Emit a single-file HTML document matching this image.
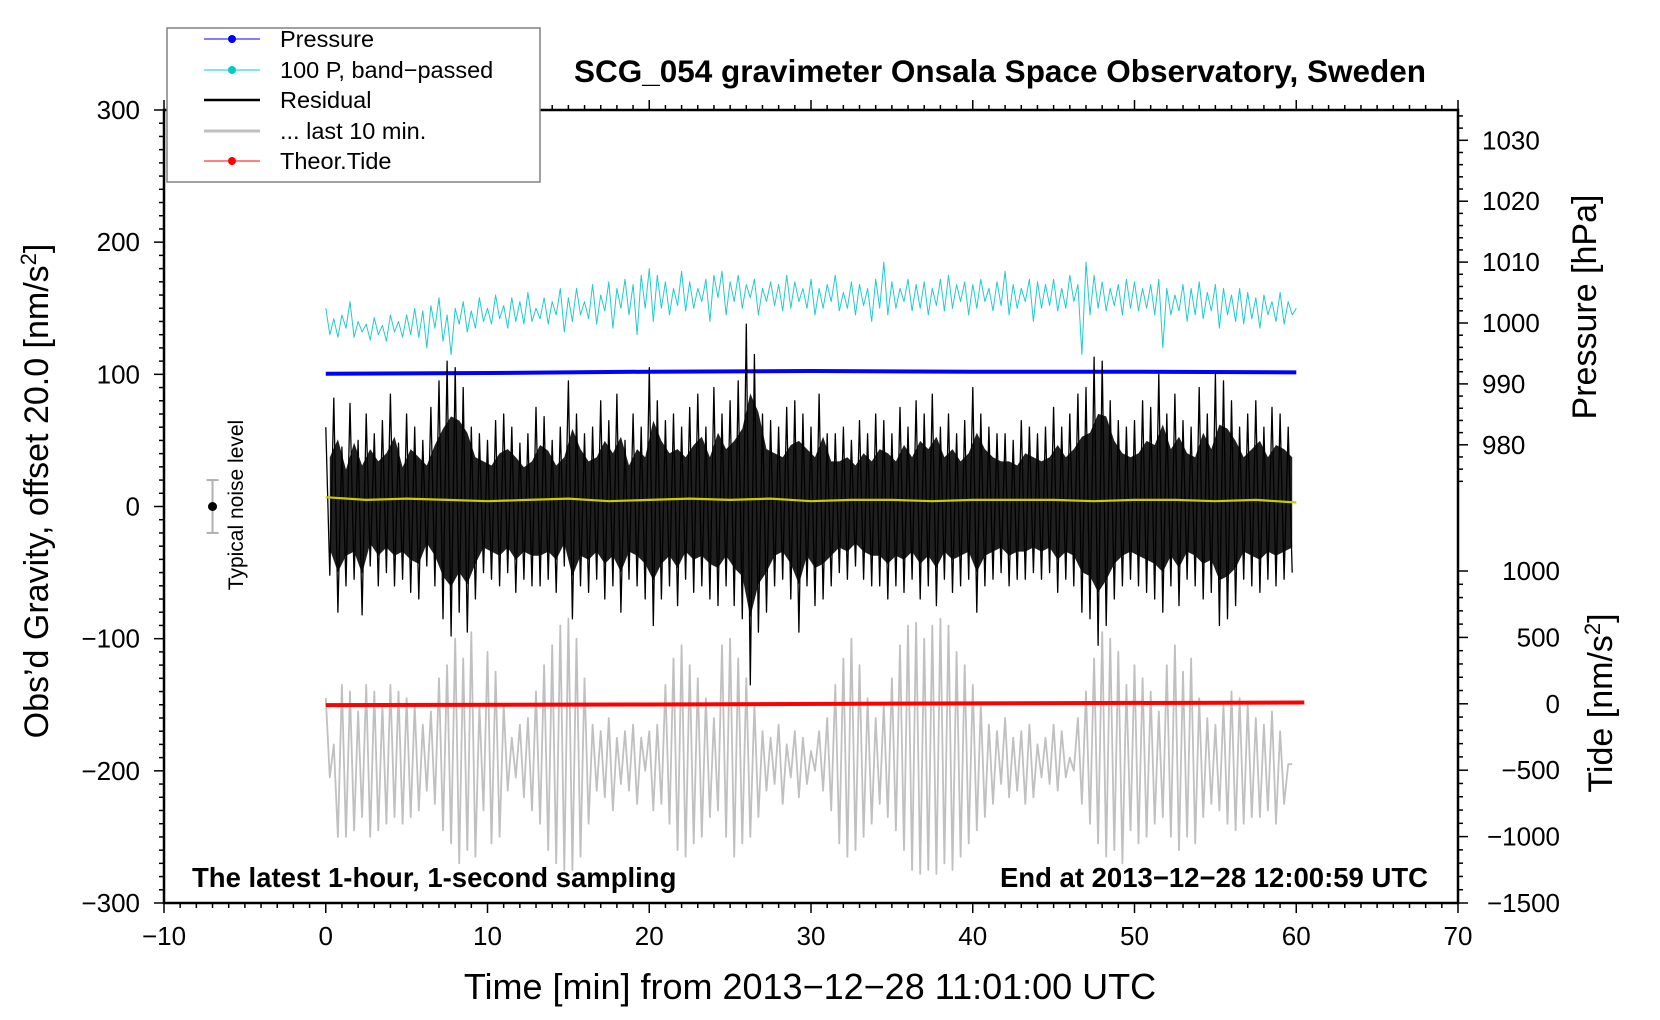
<!DOCTYPE html>
<html><head><meta charset="utf-8"><style>
html,body{margin:0;padding:0;background:#fff;}
svg{display:block;font-family:"Liberation Sans",Arial,sans-serif;}
</style></head><body>
<svg id="chart" width="1660" height="1020" viewBox="0 0 1660 1020" xmlns="http://www.w3.org/2000/svg">
<g id="data-layer"></g>
<g id="axes"></g>
<text x="1000" y="82" text-anchor="middle" font-size="31.5" font-weight="bold">SCG_054 gravimeter Onsala Space Observatory, Sweden</text>
<text x="192" y="887" font-size="27.5" font-weight="bold">The latest 1-hour, 1-second sampling</text>
<text x="1428" y="887" text-anchor="end" font-size="27.5" font-weight="bold">End at 2013−12−28 12:00:59 UTC</text>
<text transform="translate(48,491) rotate(-90)" text-anchor="middle" font-size="34">Obs’d Gravity, offset 20.0 [nm/s<tspan baseline-shift="super" font-size="22">2</tspan>]</text>
<text transform="translate(1596,307) rotate(-90)" text-anchor="middle" font-size="34">Pressure [hPa]</text>
<text transform="translate(1612,703) rotate(-90)" text-anchor="middle" font-size="34">Tide [nm/s<tspan baseline-shift="super" font-size="22">2</tspan>]</text>
<text x="810" y="999" text-anchor="middle" font-size="36">Time [min] from 2013−12−28 11:01:00 UTC</text>
<text transform="translate(243,505) rotate(-90)" text-anchor="middle" font-size="21">Typical noise level</text>
<g>
<rect x="167" y="28" width="373" height="154" fill="#fff" stroke="#808080" stroke-width="1.5"/>
<g><line x1="204" y1="39" x2="260" y2="39" stroke="#0000ff" stroke-width="1"/><circle cx="232" cy="39" r="4" fill="#0000ff"/><text x="280" y="47" font-size="23.5">Pressure</text></g>
<g><line x1="204" y1="70" x2="260" y2="70" stroke="#00cccc" stroke-width="1"/><circle cx="232" cy="70" r="4" fill="#00cccc"/><text x="280" y="78" font-size="23.5">100 P, band−passed</text></g>
<g><line x1="204" y1="100" x2="260" y2="100" stroke="#000" stroke-width="2.5"/><text x="280" y="108" font-size="23.5">Residual</text></g>
<g><line x1="204" y1="131" x2="260" y2="131" stroke="#c0c0c0" stroke-width="3"/><text x="280" y="139" font-size="23.5">... last 10 min.</text></g>
<g><line x1="204" y1="161" x2="260" y2="161" stroke="#ff0000" stroke-width="1"/><circle cx="232" cy="161" r="4" fill="#ff0000"/><text x="280" y="169" font-size="23.5">Theor.Tide</text></g>
</g>
</svg>
<script>
const xTicks=[-10,0,10,20,30,40,50,60,70];
const yTicks=[300,200,100,0,-100,-200,-300];
const pTicks=[1030,1020,1010,1000,990,980];
const tideTicks=[1000,500,0,-500,-1000,-1500];
const residual=[60,-52,82,-80,45,-60,78,-55,50,-82,70,-45,55,-60,65,-50,85,-60,48,-55,
70,-65,60,-70,50,-45,75,-60,95,-85,110,-98,105,-80,90,-95,60,-70,55,-50,
50,-55,65,-60,70,-50,60,-65,48,-55,55,-60,75,-60,68,-55,50,-65,60,-45,
95,-85,70,-60,55,-65,60,-55,80,-70,65,-60,85,-80,50,-55,70,-60,60,-70,
105,-90,80,-70,65,-60,70,-75,60,-55,75,-65,85,-60,60,-70,90,-75,70,-60,
80,-75,95,-85,138,-135,115,-95,70,-80,65,-60,60,-55,75,-70,80,-95,70,-60,
60,-75,85,-70,55,-60,55,-50,60,-55,50,-45,65,-55,55,-60,70,-60,65,-70,
55,-60,75,-65,60,-55,80,-70,70,-60,85,-75,60,-55,70,-65,55,-60,65,-55,
90,-80,70,-60,60,-55,55,-50,55,-60,50,-55,65,-55,60,-50,55,-55,60,-50,
75,-65,60,-55,70,-60,85,-80,90,-85,113,-105,110,-90,80,-70,65,-60,60,-55,
65,-60,80,-65,75,-70,100,-80,70,-60,85,-75,65,-55,60,-60,90,-70,70,-65,
100,-90,95,-85,80,-75,60,-55,70,-60,80,-65,60,-55,75,-60,70,-55,60,-50];
const last10=[-145,-205,-180,-250,-135,-250,-140,-245,-155,-235,-135,-250,-140,-245,-150,-240,-135,-235,-140,-240,
-145,-235,-150,-230,-165,-215,-155,-225,-130,-245,-120,-255,-100,-270,-115,-260,-95,-265,-150,-230,
-110,-255,-125,-250,-150,-215,-175,-205,-165,-220,-160,-230,-140,-240,-120,-260,-105,-270,-90,-275,
-85,-275,-100,-265,-130,-240,-165,-215,-170,-220,-160,-230,-175,-210,-170,-215,-165,-225,-175,-200,
-170,-230,-165,-225,-135,-240,-115,-260,-105,-265,-120,-255,-130,-250,-145,-235,-160,-230,-105,-250,
-100,-265,-115,-255,-130,-250,-150,-235,-170,-215,-175,-210,-165,-225,-180,-205,-170,-220,-175,-210,
-185,-200,-170,-215,-160,-230,-135,-255,-115,-265,-100,-260,-120,-250,-145,-240,-160,-225,-150,-235,
-130,-245,-105,-260,-90,-275,-88,-278,-100,-275,-90,-278,-85,-270,-90,-275,-110,-265,-120,-255,
-135,-245,-150,-235,-165,-225,-170,-210,-160,-220,-175,-215,-170,-225,-165,-220,-180,-205,-175,-210,
-165,-215,-170,-205,-190,-200,-160,-225,-140,-240,-115,-255,-95,-265,-100,-260,-110,-270,-135,-245,
-120,-255,-130,-250,-140,-240,-155,-235,-120,-250,-105,-260,-125,-250,-115,-255,-145,-235,-160,-225,
-165,-230,-150,-240,-140,-245,-145,-240,-150,-235,-160,-235,-165,-230,-155,-240,-170,-225,-195,-195];
const bandPassed=[150,130,142,128,145,135,155,128,140,132,138,126,143,130,137,125,145,132,140,128,
145,130,150,128,148,120,152,135,158,125,145,115,150,138,155,132,148,135,158,140,
150,138,160,142,152,135,158,140,155,138,162,140,150,142,158,138,155,145,165,132,
158,140,165,145,155,142,168,138,160,148,170,135,165,150,172,145,168,130,175,150,
180,140,175,150,170,145,165,152,178,148,170,150,165,155,172,140,175,158,178,145,
170,155,175,150,168,158,172,145,165,155,170,152,168,148,175,150,170,155,165,150,
172,145,165,150,168,155,175,148,162,150,170,145,168,152,165,140,172,150,185,145,
170,150,165,155,172,148,168,150,170,145,165,152,172,148,175,150,168,155,170,145,
168,150,172,155,165,148,170,152,178,145,168,150,165,155,172,140,170,150,168,152,
172,148,165,150,175,155,168,115,185,145,175,150,170,148,165,152,168,145,172,150,
170,148,165,150,168,145,172,120,165,145,160,148,168,140,165,145,170,142,162,148,
168,135,165,145,160,140,165,138,162,142,158,135,160,145,155,140,162,138,155,145,150];
const pressTimes=[0,10,20,30,40,50,60];
const pressVals=[100.5,101,102,102.5,102,102,101.5];
const tideTimes=[0,20,40,60.5];
const tideVals=[-10,-5,3,10];
const smoothTimes=[0,2.5,5,7.5,10,12.5,15,17.5,20,22.5,25,27.5,30,32.5,35,37.5,40,42.5,45,47.5,50,52.5,55,57.5,60];
const smoothVals=[7,5,6,5,4,5,6,4,5,6,5,6,4,5,5,4,5,5,5,4,5,5,4,5,3];
const noiseLevel=[-7,0,20];

const X0=164,X1=1458,Y0=110,Y1=903;
const xs=v=>X0+(v+10)/80*(X1-X0);
const ys=v=>Y1-(v+300)/600*(Y1-Y0);
const ps=v=>323-(v-1000)*6.09;
const ts=v=>Y1-(v+1500)/2500*(Y1-571);
const NS='http://www.w3.org/2000/svg';
const dl=document.getElementById('data-layer');
const ax=document.getElementById('axes');
function mk(tag,attrs,parent){const e=document.createElementNS(NS,tag);for(const k in attrs)e.setAttribute(k,attrs[k]);parent.appendChild(e);return e;}
function line(parent,xsArr,ysArr,color,w){let d='';for(let i=0;i<xsArr.length;i++)d+=(i?'L':'M')+xsArr[i].toFixed(1)+' '+ysArr[i].toFixed(1);return mk('path',{d:d,fill:'none',stroke:color,'stroke-width':w,'stroke-linejoin':'round'},parent);}
const step=a=>a.map((_,i)=>xs(i*0.25));

let e;
e=line(dl,step(bandPassed),bandPassed.map(ys),'#20cccc',1);


e=line(dl,pressTimes.map(xs),pressVals.map(ys),'#0000ff',4);


e=line(dl,step(last10),last10.map(ys),'#c0c0c0',1.8);


// dense residual core: envelope band from the residual samples
(function(){
  const up=[],lo=[];
  for(let i=0;i+1<residual.length;i+=2){
    const t=i*0.25+0.25;
    up.push([xs(t),ys(residual[i]*0.62)]);
    lo.push([xs(t),ys(residual[i+1]*0.62)]);
  }
  let d='M'+up.map(p=>p[0].toFixed(1)+' '+p[1].toFixed(1)).join('L')+'L'+lo.reverse().map(p=>p[0].toFixed(1)+' '+p[1].toFixed(1)).join('L')+'Z';
  const b=mk('path',{d:d,fill:'#000','fill-opacity':0.88,stroke:'none'},dl);
  
  
})();
e=line(dl,step(residual),residual.map(ys),'#000',1.3);


e=line(dl,smoothTimes.map(xs),smoothVals.map(ys),'#cccc00',2.2);


e=line(dl,tideTimes.map(xs),tideVals.map(ts),'#ff0000',4);


e=mk('line',{x1:xs(noiseLevel[0]),x2:xs(noiseLevel[0]),y1:ys(noiseLevel[1]+noiseLevel[2]),y2:ys(noiseLevel[1]-noiseLevel[2]),stroke:'#b0b0b0','stroke-width':2},dl);


[1,-1].forEach(s=>{mk('line',{x1:xs(noiseLevel[0])-6,x2:xs(noiseLevel[0])+6,y1:ys(noiseLevel[1]+s*noiseLevel[2]),y2:ys(noiseLevel[1]+s*noiseLevel[2]),stroke:'#b0b0b0','stroke-width':2},dl);});
e=mk('circle',{cx:xs(noiseLevel[0]),cy:ys(noiseLevel[1]),r:4.5,fill:'#000'},dl);



e=mk('rect',{x:X0,y:Y0,width:X1-X0,height:Y1-Y0,fill:'none',stroke:'#000','stroke-width':2.5},ax);


for(let v=-10;v<=70;v++){const big=v%10===0;const L=big?10:5;
mk('line',{x1:xs(v),x2:xs(v),y1:Y1,y2:Y1+L,stroke:'#000','stroke-width':1.5},ax);
mk('line',{x1:xs(v),x2:xs(v),y1:Y0,y2:Y0-L,stroke:'#000','stroke-width':1.5},ax);}
xTicks.forEach(v=>{e=mk('text',{x:xs(v),y:945,'text-anchor':'middle','font-size':26},ax);e.textContent=String(v).replace('-','−');

});
for(let v=-300;v<=300;v+=10){const big=v%100===0;mk('line',{x1:X0,x2:X0-(big?10:5),y1:ys(v),y2:ys(v),stroke:'#000','stroke-width':1.5},ax);}
yTicks.forEach(v=>{e=mk('text',{x:140,y:ys(v)+9,'text-anchor':'end','font-size':26},ax);e.textContent=String(v).replace('-','−');

});
for(let v=974;v<=1034;v+=2){const big=v%10===0;mk('line',{x1:X1,x2:X1+(big?10:5),y1:ps(v),y2:ps(v),stroke:'#000','stroke-width':1.5},ax);}
pTicks.forEach(v=>{e=mk('text',{x:1482,y:ps(v)+9,'font-size':26},ax);e.textContent=v;

});
for(let v=-1500;v<=1000;v+=100){const big=v%500===0;mk('line',{x1:X1,x2:X1+(big?10:5),y1:ts(v),y2:ts(v),stroke:'#000','stroke-width':1.5},ax);}
tideTicks.forEach(v=>{e=mk('text',{x:1560,y:ts(v)+9,'text-anchor':'end','font-size':26},ax);e.textContent=String(v).replace('-','−');

});
</script>
</body></html>
